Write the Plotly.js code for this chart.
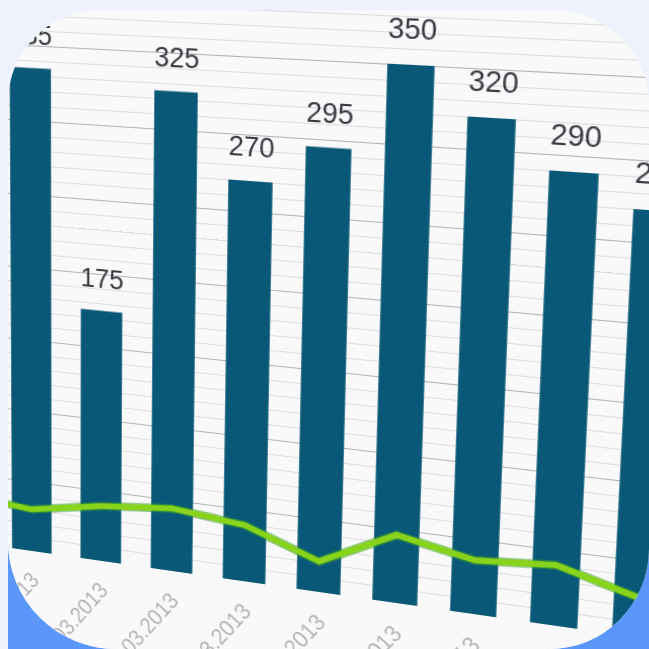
<!DOCTYPE html>
<html>
<head>
<meta charset="utf-8">
<script src="https://cdn.plot.ly/plotly-3.0.1.min.js"></script>
<style>
html,body{margin:0;padding:0;width:649px;height:649px;overflow:hidden;background:#eef2fd;}
#blue{position:absolute;left:8px;top:330px;right:0;bottom:0;background:#5b97fb;}
#card{position:absolute;left:8px;top:10px;right:0;bottom:0;border-radius:92px 95px 100px 108px;overflow:hidden;background:#f9f9fa;}
#chart{position:absolute;left:-8px;top:-10px;width:720px;height:720px;transform-origin:0 0;}
</style>
</head>
<body>
<div id="blue"></div>
<div id="card"><div id="chart"></div></div>
<script>
// ---- data ----
const categories = ['28.02.2013','01.03.2013','02.03.2013','03.03.2013','04.03.2013','05.03.2013','06.03.2013','07.03.2013','08.03.2013','09.03.2013'];
const barValues  = [null, 335, 175, 325, 270, 295, 350, 320, 290, 270];
const lineValues = [34, 30, 39, 44, 39, 21, 46, 36, 40, 26];
const barLabels  = barValues.map(v => v === null ? '' : String(v));

// ---- styling ----
const barColor = '#0a5878';
const lineColor = '#87d41a';
const lineEdge = 'rgba(60,160,40,0.55)';
const labelFont = {family: 'Liberation Sans, Arial, sans-serif', size: 27, color: '#3a3740'};

const annotations = categories
  .map((c, i) => ({
    x: c, y: barValues[i], text: barLabels[i], showarrow: false,
    yanchor: 'bottom', xanchor: 'center', yshift: 16, font: labelFont
  }))
  .filter((a, i) => barValues[i] !== null);

const traces = [
  {type: 'bar', x: categories, y: barValues, marker: {color: barColor, line: {width: 0}}, hoverinfo: 'skip'},
  {type: 'scatter', mode: 'lines', x: categories, y: lineValues, line: {color: lineEdge, width: 9}, hoverinfo: 'skip'},
  {type: 'scatter', mode: 'lines', x: categories, y: lineValues, line: {color: lineColor, width: 6}, hoverinfo: 'skip'}
];

const layout = {
  width: 720, height: 720,
  margin: {l: 0, r: 0, t: 0, b: 120},
  paper_bgcolor: '#f9f9fa', plot_bgcolor: '#f9f9fa',
  showlegend: false, bargap: 0.42,
  xaxis: {type: 'category', range: [0.2667, 9.8667], automargin: false, showgrid: false, zeroline: false, showline: false,
          ticks: '', tickangle: -52, ticklabelstandoff: 12,
          tickfont: {family: 'Liberation Sans, Arial, sans-serif', size: 23, color: '#b3b3b6'}},
  yaxis: {range: [0, 400], automargin: false, dtick: 50, showticklabels: false, zeroline: false, showline: false,
          gridcolor: '#b2b2b5', gridwidth: 1,
          minor: {dtick: 10, showgrid: true, gridcolor: '#dcdcdf', gridwidth: 1}},
  annotations: annotations
};

Plotly.newPlot('chart', traces, layout, {staticPlot: true, displayModeBar: false}).then(() => {
  // photo-like perspective: map flat plot frame to tilted quad
  const P = {X0: 130, Y0: 600, Sx: 450, Sy: 525,
             a: 411.3, b: -3, c: 100.7, d: 17.8, e: -514, f: 560.8, g: -0.075, h: -0.045};
  const A = P.a / P.Sx, B = -P.b / P.Sy, C = P.c - P.a * P.X0 / P.Sx + P.b * P.Y0 / P.Sy;
  const D = P.d / P.Sx, E = -P.e / P.Sy, F = P.f - P.d * P.X0 / P.Sx + P.e * P.Y0 / P.Sy;
  const G = P.g / P.Sx, H = -P.h / P.Sy, I = 1 - P.g * P.X0 / P.Sx + P.h * P.Y0 / P.Sy;
  document.getElementById('chart').style.transform =
    `matrix3d(${A},${D},0,${G},${B},${E},0,${H},0,0,1,0,${C},${F},0,${I})`;
});
</script>
</body>
</html>
